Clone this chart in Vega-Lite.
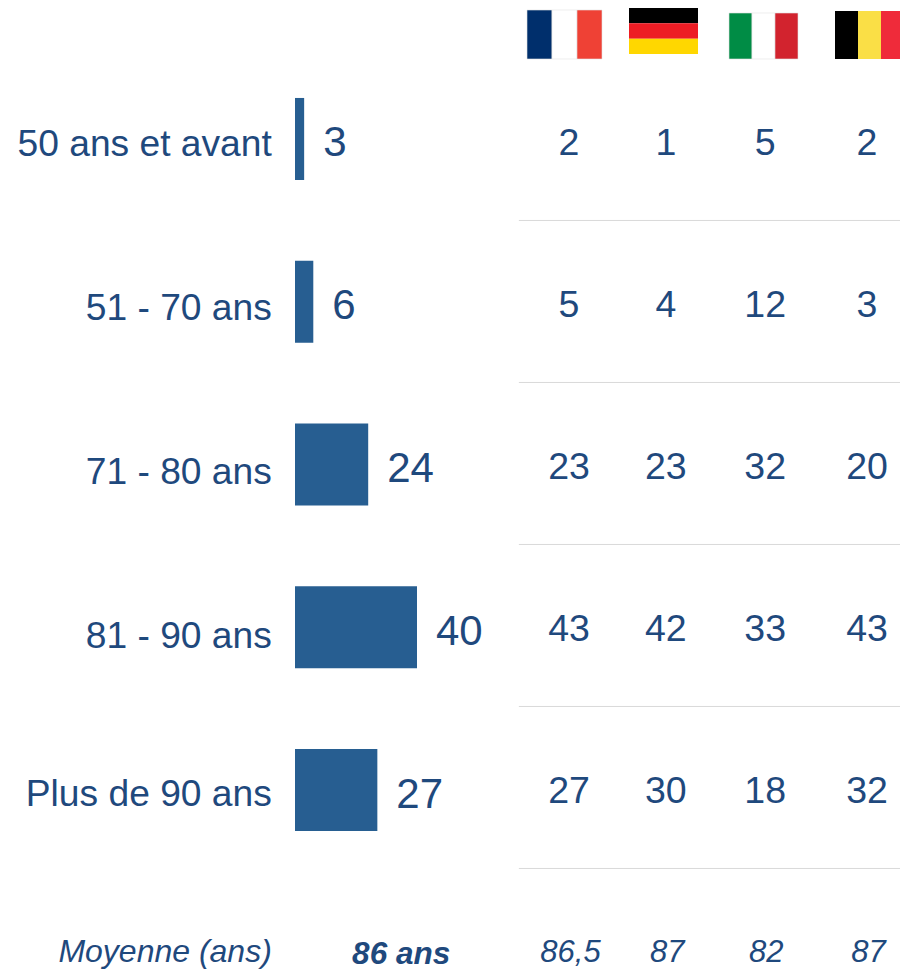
{
"$schema":"https://vega.github.io/schema/vega-lite/v6.json",
"width":900,"height":970,"padding":0,"autosize":{"type":"none"},
"background":"white",
"config":{"view":{"stroke":null},"text":{"font":"Liberation Sans","color":"#1F497D"}},
"datasets":{
"tranches":[
{"age":"50 ans et avant","valeur":3},
{"age":"51 - 70 ans","valeur":6},
{"age":"71 - 80 ans","valeur":24},
{"age":"81 - 90 ans","valeur":40},
{"age":"Plus de 90 ans","valeur":27}],
"pays":[
{"age":"50 ans et avant","pays":"France","v":"2"},{"age":"50 ans et avant","pays":"Allemagne","v":"1"},{"age":"50 ans et avant","pays":"Italie","v":"5"},{"age":"50 ans et avant","pays":"Belgique","v":"2"},
{"age":"51 - 70 ans","pays":"France","v":"5"},{"age":"51 - 70 ans","pays":"Allemagne","v":"4"},{"age":"51 - 70 ans","pays":"Italie","v":"12"},{"age":"51 - 70 ans","pays":"Belgique","v":"3"},
{"age":"71 - 80 ans","pays":"France","v":"23"},{"age":"71 - 80 ans","pays":"Allemagne","v":"23"},{"age":"71 - 80 ans","pays":"Italie","v":"32"},{"age":"71 - 80 ans","pays":"Belgique","v":"20"},
{"age":"81 - 90 ans","pays":"France","v":"43"},{"age":"81 - 90 ans","pays":"Allemagne","v":"42"},{"age":"81 - 90 ans","pays":"Italie","v":"33"},{"age":"81 - 90 ans","pays":"Belgique","v":"43"},
{"age":"Plus de 90 ans","pays":"France","v":"27"},{"age":"Plus de 90 ans","pays":"Allemagne","v":"30"},{"age":"Plus de 90 ans","pays":"Italie","v":"18"},{"age":"Plus de 90 ans","pays":"Belgique","v":"32"}],
"moyennes":[
{"age":"Moyenne (ans)","pays":"France","v":"86,5"},{"age":"Moyenne (ans)","pays":"Allemagne","v":"87"},{"age":"Moyenne (ans)","pays":"Italie","v":"82"},{"age":"Moyenne (ans)","pays":"Belgique","v":"87"}]
},
"resolve":{"scale":{"x":"independent","y":"independent"}},
"layer":[
{"data":{"values":[{"pays":"France","bande":"bleu"},{"pays":"France","bande":"blanc"},{"pays":"France","bande":"rouge"}]},
 "mark":{"type":"rect","stroke":"#E2E2E2","strokeWidth":0.6},
 "encoding":{
  "x":{"field":"bande","type":"nominal","axis":null,"scale":{"domain":["bleu","blanc","rouge"],"range":[527,602],"paddingInner":0,"paddingOuter":0}},
  "y":{"field":"pays","type":"nominal","axis":null,"scale":{"range":[10,59],"paddingInner":0,"paddingOuter":0}},
  "color":{"field":"bande","type":"nominal","legend":null,"scale":{"domain":["bleu","blanc","rouge","noir","rougeAll","or","vert","rougeIt","jaune","rougeBe"],"range":["#002F6C","#FFFFFF","#EF4135","#000000","#ED1C24","#FFD700","#008C45","#D2232E","#FADF46","#EF2B3A"]}}}},
{"data":{"values":[{"pays":"Allemagne","bande":"noir"},{"pays":"Allemagne","bande":"rougeAll"},{"pays":"Allemagne","bande":"or"}]},
 "mark":{"type":"rect"},
 "encoding":{
  "x":{"field":"pays","type":"nominal","axis":null,"scale":{"range":[629,698],"paddingInner":0,"paddingOuter":0}},
  "y":{"field":"bande","type":"nominal","axis":null,"scale":{"domain":["noir","rougeAll","or"],"range":[8,54],"paddingInner":0,"paddingOuter":0}},
  "color":{"field":"bande","type":"nominal","legend":null}}},
{"data":{"values":[{"pays":"Italie","bande":"vert"},{"pays":"Italie","bande":"blanc"},{"pays":"Italie","bande":"rougeIt"}]},
 "mark":{"type":"rect","stroke":"#E2E2E2","strokeWidth":0.6},
 "encoding":{
  "x":{"field":"bande","type":"nominal","axis":null,"scale":{"domain":["vert","blanc","rougeIt"],"range":[729,798],"paddingInner":0,"paddingOuter":0}},
  "y":{"field":"pays","type":"nominal","axis":null,"scale":{"range":[13,59],"paddingInner":0,"paddingOuter":0}},
  "color":{"field":"bande","type":"nominal","legend":null}}},
{"data":{"values":[{"pays":"Belgique","bande":"noir"},{"pays":"Belgique","bande":"jaune"},{"pays":"Belgique","bande":"rougeBe"}]},
 "mark":{"type":"rect"},
 "encoding":{
  "x":{"field":"bande","type":"nominal","axis":null,"scale":{"domain":["noir","jaune","rougeBe"],"range":[835,904],"paddingInner":0,"paddingOuter":0}},
  "y":{"field":"pays","type":"nominal","axis":null,"scale":{"range":[11,59],"paddingInner":0,"paddingOuter":0}},
  "color":{"field":"bande","type":"nominal","legend":null}}},
{"data":{"name":"tranches"},
 "mark":{"type":"rule","color":"#D9D9D9","strokeWidth":1},
 "encoding":{
  "x":{"datum":73.4,"type":"quantitative","axis":null,"scale":{"domain":[0,198.36],"range":[295,900]}},
  "x2":{"datum":198.36},
  "y":{"field":"age","type":"nominal","axis":null,"bandPosition":1.494,"sort":null,"scale":{"domain":["50 ans et avant","51 - 70 ans","71 - 80 ans","81 - 90 ans","Plus de 90 ans","Moyenne (ans)"],"range":[58,1030],"paddingInner":0.494,"paddingOuter":0.247}}}},
{"data":{"name":"tranches"},
 "mark":{"type":"bar","color":"#275E91"},
 "encoding":{
  "x":{"field":"valeur","type":"quantitative","axis":null,"scale":{"domain":[0,198.36],"range":[295,900]}},
  "y":{"field":"age","type":"nominal","axis":null,"scale":{"domain":["50 ans et avant","51 - 70 ans","71 - 80 ans","81 - 90 ans","Plus de 90 ans","Moyenne (ans)"],"range":[57.6,1034.1],"paddingInner":0.496,"paddingOuter":0.248}}}},
{"data":{"name":"tranches"},
 "mark":{"type":"text","align":"left","baseline":"middle","fontSize":42,"dx":19},
 "encoding":{
  "x":{"field":"valeur","type":"quantitative","axis":null,"scale":{"domain":[0,198.36],"range":[295,900]}},
  "y":{"field":"age","type":"nominal","axis":null,"scale":{"domain":["50 ans et avant","51 - 70 ans","71 - 80 ans","81 - 90 ans","Plus de 90 ans","Moyenne (ans)"],"range":[61,1039],"paddingInner":0.494,"paddingOuter":0.247}},
  "text":{"field":"valeur","type":"quantitative"}}},
{"data":{"name":"tranches"},
 "transform":[{"filter":"datum.age !== 'Plus de 90 ans'"}],
 "mark":{"type":"text","align":"right","baseline":"middle","fontSize":37.2},
 "encoding":{
  "x":{"datum":-7.6,"type":"quantitative","axis":null,"scale":{"domain":[0,198.36],"range":[295,900]}},
  "y":{"field":"age","type":"nominal","axis":null,"scale":{"domain":["50 ans et avant","51 - 70 ans","71 - 80 ans","81 - 90 ans","Plus de 90 ans","Moyenne (ans)"],"range":[63,1047],"paddingInner":0.494,"paddingOuter":0.247}},
  "text":{"field":"age"}}},
{"data":{"name":"tranches"},
 "transform":[{"filter":"datum.age === 'Plus de 90 ans'"}],
 "mark":{"type":"text","align":"right","baseline":"middle","fontSize":37.2,"dy":8},
 "encoding":{
  "x":{"datum":-7.6,"type":"quantitative","axis":null,"scale":{"domain":[0,198.36],"range":[295,900]}},
  "y":{"field":"age","type":"nominal","axis":null,"scale":{"domain":["50 ans et avant","51 - 70 ans","71 - 80 ans","81 - 90 ans","Plus de 90 ans","Moyenne (ans)"],"range":[58,1030],"paddingInner":0.494,"paddingOuter":0.247}},
  "text":{"field":"age"}}},
{"data":{"values":[{"age":"Moyenne (ans)"}]},
 "mark":{"type":"text","align":"right","baseline":"middle","fontSize":32,"fontStyle":"italic","dy":3},
 "encoding":{
  "x":{"datum":-7.6,"type":"quantitative","axis":null,"scale":{"domain":[0,198.36],"range":[295,900]}},
  "y":{"field":"age","type":"nominal","axis":null,"scale":{"domain":["50 ans et avant","51 - 70 ans","71 - 80 ans","81 - 90 ans","Plus de 90 ans","Moyenne (ans)"],"range":[58,1030],"paddingInner":0.494,"paddingOuter":0.247}},
  "text":{"field":"age"}}},
{"data":{"values":[{"age":"Moyenne (ans)","total":"86 ans"}]},
 "mark":{"type":"text","align":"center","baseline":"middle","fontSize":31.5,"fontStyle":"italic","fontWeight":"bold","dy":5.5},
 "encoding":{
  "x":{"datum":34.8,"type":"quantitative","axis":null,"scale":{"domain":[0,198.36],"range":[295,900]}},
  "y":{"field":"age","type":"nominal","axis":null,"scale":{"domain":["50 ans et avant","51 - 70 ans","71 - 80 ans","81 - 90 ans","Plus de 90 ans","Moyenne (ans)"],"range":[58,1030],"paddingInner":0.494,"paddingOuter":0.247}},
  "text":{"field":"total"}}},
{"data":{"name":"pays"},
 "transform":[{"filter":"datum.pays === 'France' || datum.pays === 'Belgique'"}],
 "mark":{"type":"text","align":"center","baseline":"middle","fontSize":37.5,"dy":5},
 "encoding":{
  "x":{"field":"pays","type":"nominal","axis":null,"scale":{"domain":["France","Allemagne","Italie","Belgique"],"range":[569,867],"padding":0}},
  "y":{"field":"age","type":"nominal","axis":null,"scale":{"domain":["50 ans et avant","51 - 70 ans","71 - 80 ans","81 - 90 ans","Plus de 90 ans","Moyenne (ans)"],"range":[58,1030],"paddingInner":0.494,"paddingOuter":0.247}},
  "text":{"field":"v"}}},
{"data":{"name":"pays"},
 "transform":[{"filter":"datum.pays === 'Allemagne'"}],
 "mark":{"type":"text","align":"center","baseline":"middle","fontSize":37.5,"dy":5,"dx":-2.5},
 "encoding":{
  "x":{"field":"pays","type":"nominal","axis":null,"scale":{"domain":["France","Allemagne","Italie","Belgique"],"range":[569,867],"padding":0}},
  "y":{"field":"age","type":"nominal","axis":null,"scale":{"domain":["50 ans et avant","51 - 70 ans","71 - 80 ans","81 - 90 ans","Plus de 90 ans","Moyenne (ans)"],"range":[58,1030],"paddingInner":0.494,"paddingOuter":0.247}},
  "text":{"field":"v"}}},
{"data":{"name":"pays"},
 "transform":[{"filter":"datum.pays === 'Italie'"}],
 "mark":{"type":"text","align":"center","baseline":"middle","fontSize":37.5,"dy":5,"dx":-2.5},
 "encoding":{
  "x":{"field":"pays","type":"nominal","axis":null,"scale":{"domain":["France","Allemagne","Italie","Belgique"],"range":[569,867],"padding":0}},
  "y":{"field":"age","type":"nominal","axis":null,"scale":{"domain":["50 ans et avant","51 - 70 ans","71 - 80 ans","81 - 90 ans","Plus de 90 ans","Moyenne (ans)"],"range":[58,1030],"paddingInner":0.494,"paddingOuter":0.247}},
  "text":{"field":"v"}}},
{"data":{"name":"moyennes"},
 "transform":[{"filter":"datum.pays === 'France' || datum.pays === 'Belgique'"}],
 "mark":{"type":"text","align":"center","baseline":"middle","fontSize":31,"fontStyle":"italic","dy":4,"dx":1.5},
 "encoding":{
  "x":{"field":"pays","type":"nominal","axis":null,"scale":{"domain":["France","Allemagne","Italie","Belgique"],"range":[569,867],"padding":0}},
  "y":{"field":"age","type":"nominal","axis":null,"scale":{"domain":["50 ans et avant","51 - 70 ans","71 - 80 ans","81 - 90 ans","Plus de 90 ans","Moyenne (ans)"],"range":[58,1030],"paddingInner":0.494,"paddingOuter":0.247}},
  "text":{"field":"v"}}},
{"data":{"name":"moyennes"},
 "transform":[{"filter":"datum.pays === 'Allemagne'"}],
 "mark":{"type":"text","align":"center","baseline":"middle","fontSize":31,"fontStyle":"italic","dy":4,"dx":-1},
 "encoding":{
  "x":{"field":"pays","type":"nominal","axis":null,"scale":{"domain":["France","Allemagne","Italie","Belgique"],"range":[569,867],"padding":0}},
  "y":{"field":"age","type":"nominal","axis":null,"scale":{"domain":["50 ans et avant","51 - 70 ans","71 - 80 ans","81 - 90 ans","Plus de 90 ans","Moyenne (ans)"],"range":[58,1030],"paddingInner":0.494,"paddingOuter":0.247}},
  "text":{"field":"v"}}},
{"data":{"name":"moyennes"},
 "transform":[{"filter":"datum.pays === 'Italie'"}],
 "mark":{"type":"text","align":"center","baseline":"middle","fontSize":31,"fontStyle":"italic","dy":4,"dx":-1.5},
 "encoding":{
  "x":{"field":"pays","type":"nominal","axis":null,"scale":{"domain":["France","Allemagne","Italie","Belgique"],"range":[569,867],"padding":0}},
  "y":{"field":"age","type":"nominal","axis":null,"scale":{"domain":["50 ans et avant","51 - 70 ans","71 - 80 ans","81 - 90 ans","Plus de 90 ans","Moyenne (ans)"],"range":[58,1030],"paddingInner":0.494,"paddingOuter":0.247}},
  "text":{"field":"v"}}}
]
}
